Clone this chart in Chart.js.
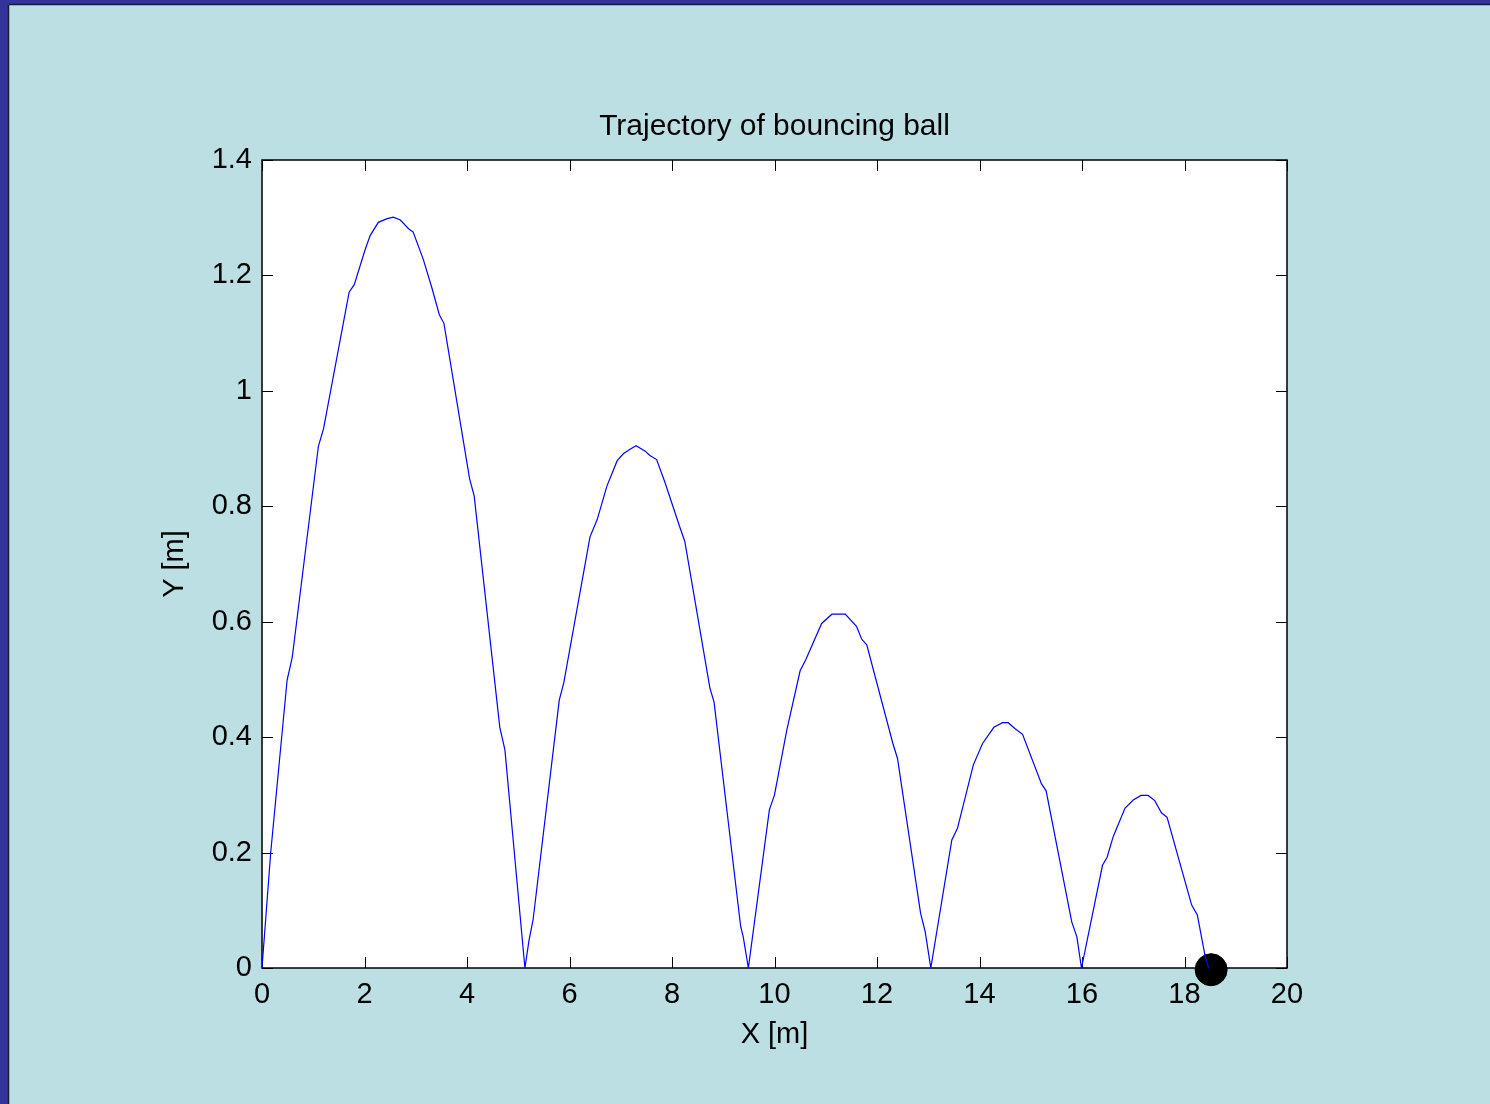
<!DOCTYPE html>
<html>
<head>
<meta charset="utf-8">
<script src="https://cdn.jsdelivr.net/npm/chart.js@4.4.0/dist/chart.umd.min.js"></script>
<style>
  html, body { margin: 0; padding: 0; background: #bbdfe2; }
  canvas { display: block; }
</style>
</head>
<body>
<canvas id="myChart" width="1490" height="1104"></canvas>
<script>
// trajectory, one bounce after another
const trajX = [0, 0.17, 0.49, 0.59, 1.10, 1.20, 1.70, 1.80, 2.01, 2.11, 2.27, 2.43, 2.56, 2.70, 2.86, 2.95, 3.15, 3.31, 3.46, 3.55, 4.05, 4.14, 4.64, 4.74, 5.13,
    5.21, 5.29, 5.80, 5.89, 6.40, 6.54, 6.73, 6.93, 7.05, 7.18, 7.30, 7.47, 7.57, 7.70, 7.86, 8.16, 8.25, 8.74, 8.82, 9.34, 9.39, 9.49,
    9.90, 10.00, 10.24, 10.50, 10.61, 10.92, 11.12, 11.38, 11.60, 11.70, 11.80, 12.31, 12.40, 12.85, 12.94, 13.05,
    13.46, 13.57, 13.88, 14.06, 14.28, 14.45, 14.56, 14.69, 14.84, 15.21, 15.30, 15.80, 15.90, 15.99,
    16.40, 16.49, 16.61, 16.84, 17.00, 17.15, 17.29, 17.42, 17.55, 17.66, 18.14, 18.25, 18.40, 18.47];
const trajY = [0, 0.20, 0.499, 0.538, 0.904, 0.934, 1.171, 1.184, 1.244, 1.269, 1.292, 1.298, 1.301, 1.296, 1.281, 1.275, 1.227, 1.180, 1.132, 1.117, 0.848, 0.818, 0.417, 0.378, 0,
    0.048, 0.084, 0.464, 0.495, 0.747, 0.777, 0.835, 0.879, 0.891, 0.899, 0.905, 0.896, 0.888, 0.881, 0.842, 0.762, 0.739, 0.485, 0.461, 0.072, 0.054, 0,
    0.274, 0.300, 0.412, 0.515, 0.534, 0.597, 0.613, 0.613, 0.592, 0.570, 0.560, 0.389, 0.363, 0.095, 0.063, 0,
    0.222, 0.242, 0.352, 0.389, 0.417, 0.425, 0.425, 0.415, 0.405, 0.319, 0.307, 0.080, 0.054, 0,
    0.178, 0.192, 0.228, 0.277, 0.291, 0.299, 0.299, 0.290, 0.269, 0.261, 0.109, 0.092, 0.022, 0];

// the ball at its last position
const ballX = [18.52];
const ballY = [-0.003];

const xTickLabels = ['0', '2', '4', '6', '8', '10', '12', '14', '16', '18', '20'];
const yTickLabels = ['0', '0.2', '0.4', '0.6', '0.8', '1', '1.2', '1.4'];

const FONT = '"Liberation Sans", Arial, sans-serif';

// slide background, frame and matlab style inner ticks
const matlabFrame = {
    id: 'matlabFrame',
    beforeDraw(chart) {
        const ctx = chart.ctx;
        const a = chart.chartArea;
        ctx.save();
        ctx.fillStyle = '#bbdfe2';
        ctx.fillRect(0, 0, chart.width, chart.height);
        ctx.fillStyle = '#333399';
        ctx.fillRect(0, 0, chart.width, 4);
        ctx.fillRect(0, 0, 8, chart.height);
        ctx.strokeStyle = '#1a1a33';
        ctx.lineWidth = 1.5;
        ctx.beginPath();
        ctx.moveTo(8.5, 4.5); ctx.lineTo(chart.width, 4.5);
        ctx.moveTo(8.5, 4.5); ctx.lineTo(8.5, chart.height);
        ctx.stroke();
        ctx.fillStyle = '#ffffff';
        ctx.fillRect(a.left, a.top, a.right - a.left, a.bottom - a.top);
        ctx.restore();
    },
    beforeDatasetsDraw(chart) {
        const ctx = chart.ctx;
        const a = chart.chartArea;
        const xs = chart.scales.x, ys = chart.scales.y;
        const len = 11;
        ctx.save();
        ctx.strokeStyle = '#000';
        ctx.lineWidth = 1;
        ctx.beginPath();
        xs.ticks.forEach(t => {
            const px = Math.round(xs.getPixelForValue(t.value)) + 0.5;
            ctx.moveTo(px, a.bottom); ctx.lineTo(px, a.bottom - len);
            ctx.moveTo(px, a.top); ctx.lineTo(px, a.top + len);
        });
        ys.ticks.forEach(t => {
            const py = Math.round(ys.getPixelForValue(t.value)) + 0.5;
            ctx.moveTo(a.left, py); ctx.lineTo(a.left + len, py);
            ctx.moveTo(a.right, py); ctx.lineTo(a.right - len, py);
        });
        ctx.stroke();
        ctx.lineWidth = 1.5;
        ctx.strokeRect(a.left, a.top, a.right - a.left, a.bottom - a.top);
        ctx.restore();
    }
};

const ctx = document.getElementById('myChart').getContext('2d');
new Chart(ctx, {
    type: 'scatter',
    data: {
        datasets: [{
            label: 'trajectory',
            data: trajX.map((x, i) => ({x: x, y: trajY[i]})),
            showLine: true,
            borderColor: '#0000ff',
            borderWidth: 1.2,
            pointRadius: 0,
            tension: 0,
            fill: false
        }, {
            label: 'ball',
            data: ballX.map((x, i) => ({x: x, y: ballY[i]})),
            pointRadius: 16,
            pointBackgroundColor: '#000',
            pointBorderColor: '#000',
            clip: false
        }]
    },
    options: {
        responsive: false,
        animation: false,
        devicePixelRatio: 1,
        layout: { padding: { left: 0, right: 203, top: 0, bottom: 0 } },
        plugins: {
            legend: { display: false },
            tooltip: { enabled: false },
            title: {
                display: true,
                text: 'Trajectory of bouncing ball',
                color: '#000',
                fullSize: false,
                font: { family: FONT, size: 30, weight: 'normal' },
                padding: { top: 109, bottom: 15 }
            }
        },
        scales: {
            x: {
                type: 'linear',
                min: 0, max: 20,
                grid: { display: false, drawTicks: false },
                border: { display: false },
                ticks: {
                    stepSize: 2,
                    color: '#000',
                    padding: 10,
                    font: { family: FONT, size: 29 },
                    callback: (v, i) => xTickLabels[i]
                },
                title: {
                    display: true,
                    text: 'X [m]',
                    color: '#000',
                    font: { family: FONT, size: 29 },
                    padding: { top: 0, bottom: 52 }
                },
                afterFit: s => { s.height = 136; }
            },
            y: {
                min: 0, max: 1.4,
                grid: { display: false, drawTicks: false },
                border: { display: false },
                ticks: {
                    stepSize: 0.2,
                    color: '#000',
                    padding: 10,
                    font: { family: FONT, size: 29 },
                    callback: (v, i) => yTickLabels[i]
                },
                title: {
                    display: true,
                    text: 'Y [m]',
                    color: '#000',
                    font: { family: FONT, size: 29 },
                    padding: { top: 157.6, bottom: 0 }
                },
                afterFit: s => { s.width = 262; }
            }
        }
    },
    plugins: [matlabFrame]
});
</script>
</body>
</html>
